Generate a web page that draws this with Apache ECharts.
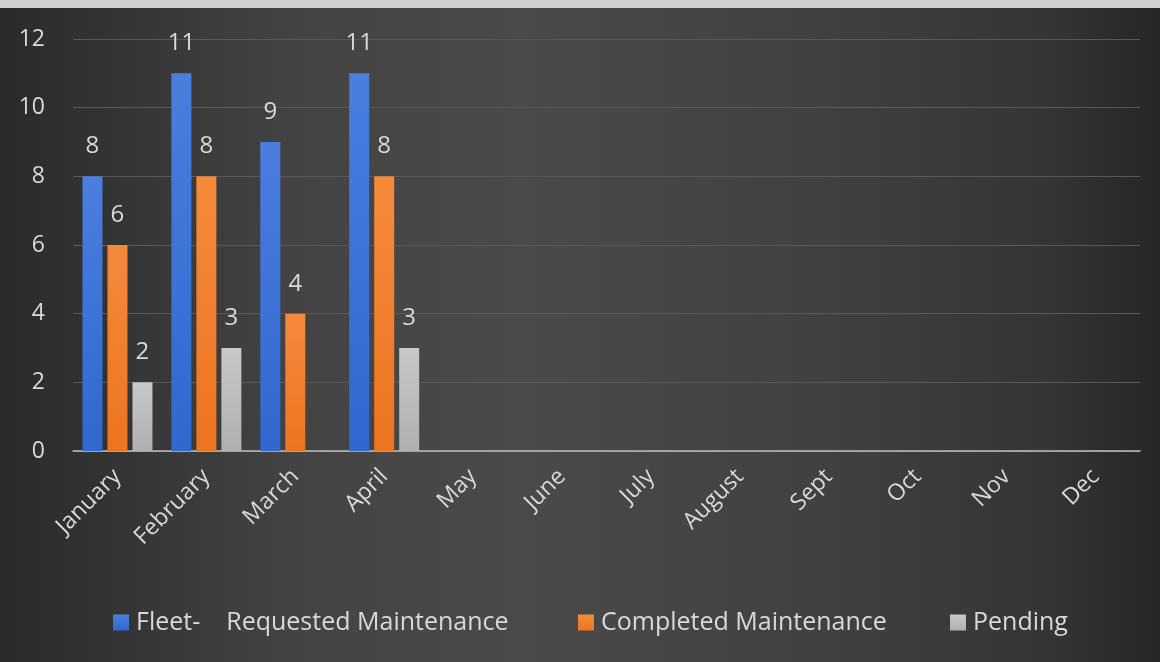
<!DOCTYPE html>
<html><head><meta charset="utf-8">
<script src="https://cdn.jsdelivr.net/npm/echarts@6/dist/echarts.min.js"></script>
<style>
html,body{margin:0;padding:0;width:1160px;height:662px;overflow:hidden;background:#cfcfcf;}
#c{position:absolute;left:0;top:8px;width:1160px;height:654px;}
</style></head><body>
<div id="c"></div>
<script>
const categories = ['January','February','March','April','May','June','July','August','Sept','Oct','Nov','Dec'];
const requested = [8, 11, 9, 11, null, null, null, null, null, null, null, null];
const completed = [6, 8, 4, 8, null, null, null, null, null, null, null, null];
const pending = [2, 3, null, 3, null, null, null, null, null, null, null, null];
const seriesNames = ['Fleet-    Requested Maintenance', 'Completed Maintenance', 'Pending'];
const yTicks = [0, 2, 4, 6, 8, 10, 12];

const font = '"Open Sans", "Noto Sans", sans-serif';
const txt = '#d9d9d9';
function grad(top, bottom){
  return new echarts.graphic.LinearGradient(0,0,0,1,[{offset:0,color:top},{offset:1,color:bottom}]);
}
const chart = echarts.init(document.getElementById('c'));
const lbl = {show:true, position:'top', distance:18, color:txt, fontSize:24, fontFamily:font};
const legendBase = {
  top:597, itemWidth:16, itemHeight:16, icon:'rect', itemGap:0,
  textStyle:{color:txt, fontSize:25, fontFamily:font, padding:[0,0,0,2]}
};
chart.setOption({
  backgroundColor: new echarts.graphic.LinearGradient(0, 0, 1, 0, [
    {offset:0, color:'#2a2a2a'}, {offset:0.25, color:'#434343'}, {offset:0.45, color:'#4a4a4a'},
    {offset:0.7, color:'#414141'}, {offset:0.9, color:'#353535'}, {offset:1, color:'#262626'}
  ]),
  animation:false,
  grid:{left:73, right:20, top:31, bottom:211},
  legend:[
    Object.assign({}, legendBase, {left:108, data:[seriesNames[0]]}),
    Object.assign({}, legendBase, {left:573, data:[seriesNames[1]]}),
    Object.assign({}, legendBase, {left:945, data:[seriesNames[2]]})
  ],
  xAxis:{
    type:'category', data:categories,
    axisLine:{lineStyle:{color:'#bfbfbf', width:1.5}},
    axisTick:{show:false},
    axisLabel:{rotate:45, color:txt, fontSize:23, fontFamily:font, margin:22, interval:0}
  },
  yAxis:{
    type:'value', min:yTicks[0], max:yTicks[yTicks.length-1], interval:2,
    axisLine:{show:false}, axisTick:{show:false},
    splitLine:{lineStyle:{color:'#585858', width:1}},
    axisLabel:{color:txt, fontSize:23, fontFamily:font, margin:28}
  },
  series:[
    {name:seriesNames[0], type:'bar', data:requested, barWidth:20, barGap:'25%', barCategoryGap:'21%',
      itemStyle:{color:grad('#4a7fe0','#3068cf')}, label:lbl},
    {name:seriesNames[1], type:'bar', data:completed, barWidth:20,
      itemStyle:{color:grad('#f58a3c','#ec7420')}, label:lbl},
    {name:seriesNames[2], type:'bar', data:pending, barWidth:20,
      itemStyle:{color:grad('#c8c8c8','#b0b0b0')}, label:lbl}
  ]
});
</script>
</body></html>
